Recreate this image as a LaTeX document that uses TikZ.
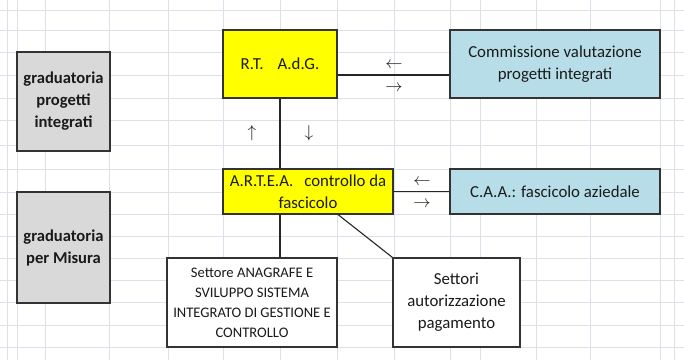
\documentclass[tikz,border=0pt]{standalone}
\usepackage{fontspec}
\setmainfont{Carlito}
\definecolor{gialloadg}{HTML}{FFFF00}
\definecolor{azzurro}{HTML}{B7DEE8}
\definecolor{grigio}{HTML}{D9D9D9}
\definecolor{griglia}{HTML}{DCE0EA}
\definecolor{testo}{HTML}{1A1A1A}
\tikzset{
  casella/.style={draw=black!80, line width=1.1pt, align=center, inner sep=2pt, text=testo,
    font=\fontsize{16.8}{22}\selectfont},
  giallo/.style={casella, fill=gialloadg},
  celeste/.style={casella, fill=azzurro},
  grad/.style={casella, fill=grigio, font=\bfseries\fontsize{16.6}{22}\selectfont},
  settore/.style={casella, fill=white},
  freccia/.style={inner sep=0pt, text=testo, font=\fontsize{17}{17}\selectfont},
  linea/.style={line width=1.1pt, draw=black!85}
}
\begin{document}
\begin{tikzpicture}[x=1pt,y=-1pt]
				\useasboundingbox (0,0) rectangle (684,360);
				\fill[white] (0,0) rectangle (684,360);
				\foreach \r in {10,30,52,75,98,120,145,169,192,214,236,258,280,302,325,347}
					\draw[griglia, line width=0.8pt] (0,\r) -- (684,\r);
				\foreach \c in {7,17,45,109,168,223,280,337,394,450,480,536,590,660,674}
					\draw[griglia, line width=0.8pt] (\c,0) -- (\c,360);

				\node[grad, minimum width=93pt, minimum height=99pt] (gradpi) at (63.5,101.5) {graduatoria\\progetti\\integrati};
				\node[grad, minimum width=93pt, minimum height=111pt] (gradmis) at (63.5,247.5) {graduatoria\\per Misura};

				\node[giallo, minimum width=114pt, minimum height=68pt] (rt) at (280,64) {R.T.\hspace{14pt}A.d.G.};
				\node[celeste, minimum width=210pt, minimum height=68pt] (comm) at (555,64) {Commissione valutazione\\progetti integrati};
				\node[giallo, minimum width=170pt, minimum height=45pt] (artea) at (308,191.5) {A.R.T.E.A.\hspace{11pt}controllo da\\fascicolo};
				\node[celeste, minimum width=210pt, minimum height=45pt] (caa) at (555,191.5) {C.A.A.: fascicolo aziedale};
				\node[settore, minimum width=170pt, minimum height=89pt, font=\fontsize{14.6}{20}\selectfont] (anagrafe) at (252,302.5) {Settore ANAGRAFE E\\SVILUPPO SISTEMA\\INTEGRATO DI GESTIONE E\\CONTROLLO};
				\node[settore, minimum width=127pt, minimum height=89pt] (autorizz) at (456.5,302.5) {Settori\\autorizzazione\\pagamento};

				\draw[linea] ([yshift=-11pt]rt.east) -- ([yshift=-11pt]comm.west);
				\draw[linea] (rt.south) -- (rt.south |- artea.north);
				\draw[linea] (artea.east) -- (caa.west);
				\draw[linea] (rt.south |- artea.south) -- (rt.south |- anagrafe.north);
				\draw[linea] ([xshift=30pt]artea.south) -- (autorizz.north west);

				\node[freccia] (sx1) at (394,65) {$\leftarrow$};
				\node[freccia] (dx1) at (394,88) {$\rightarrow$};
				\node[freccia] (su) at (252,133) {$\uparrow$};
				\node[freccia] (giu) at (309,133) {$\downarrow$};
				\node[freccia] (sx2) at (422,182) {$\leftarrow$};
				\node[freccia] (dx2) at (422,204) {$\rightarrow$};
			\end{tikzpicture}
\end{document}
